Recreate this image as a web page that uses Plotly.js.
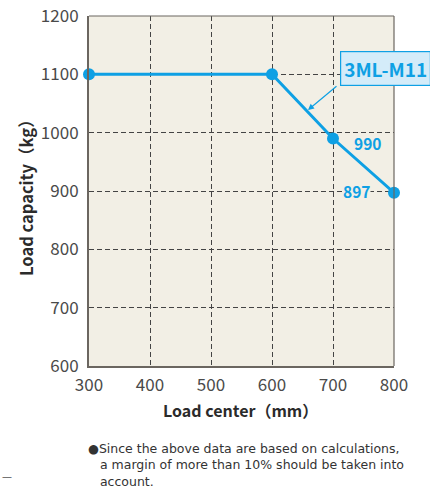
<!DOCTYPE html>
<html><head><meta charset="utf-8">
<script src="https://cdn.plot.ly/plotly-3.0.1.min.js"></script>
<style>body{margin:0;background:#fff}#chart{width:430px;height:496px}</style>
</head><body><div id="chart"></div>
<script>
const loadCenter = [300, 600, 700, 800];
const loadCapacity = [1100, 1100, 990, 897];
const xTicks = [300, 400, 500, 600, 700, 800];
const yTicks = [600, 700, 800, 900, 1000, 1100, 1200];
const seriesName = '3ML-M11';
const valueLabels = ['990', '897'];
const noteLines = ['●Since the above data are based on calculations,', '   a margin of more than 10% should be taken into', '   account.'];

const blue = '#0ea0e4';
const F = '"Noto Sans CJK JP", "Noto Sans", sans-serif';
const FN = '"DejaVu Sans", "Liberation Sans", sans-serif';

const W = 430, H = 496, L = 89, R = 36, T = 16, B = 130;
const pw = W - L - R, ph = H - T - B;
function px(x){return (x - L) / pw;}
function py(y){return (H - B - y) / ph;}

const trace = {
  x: loadCenter, y: loadCapacity, type: 'scatter', mode: 'lines+markers',
  line: {color: blue, width: 3}, marker: {color: blue, size: 12},
  cliponaxis: false, hoverinfo: 'skip'
};

const annotations = [
  {x: loadCenter[2], y: loadCapacity[2], xref: 'x', yref: 'y', text: '<b>' + valueLabels[0] + '</b>', showarrow: false,
   xshift: 34, yshift: -4, font: {family: F, size: 15.5, color: blue}},
  {x: loadCenter[3], y: loadCapacity[3], xref: 'x', yref: 'y', text: '<b>' + valueLabels[1] + '</b>', showarrow: false,
   xshift: -38, yshift: 2, bgcolor: '#f2efe5', borderpad: 0, font: {family: F, size: 15.5, color: blue}},
  {x: 659, y: 1039, xref: 'x', yref: 'y', ax: 30, ay: -25,
   text: '', showarrow: true, arrowhead: 2, arrowsize: 1, arrowwidth: 1.2, arrowcolor: blue},
  {x: px(340), y: py(68), xref: 'paper', yref: 'paper', xanchor: 'left', yanchor: 'middle',
   text: '<b>' + seriesName + '</b>', showarrow: false, bgcolor: '#d4ecf9', bordercolor: blue, borderwidth: 1.2,
   borderpad: 3, font: {family: F, size: 19, color: blue}},
  {x: px(240), y: py(410), xref: 'paper', yref: 'paper', xanchor: 'center', yanchor: 'middle',
   text: '<b>Load center（mm）</b>', showarrow: false, font: {family: F, size: 16, color: '#2b2b2b'}},
  {x: px(26), y: py(193), xref: 'paper', yref: 'paper', xanchor: 'center', yanchor: 'middle',
   textangle: -90, text: '<b>Load capacity（kg）</b>', showarrow: false, font: {family: F, size: 16.5, color: '#2b2b2b'}},
  {x: px(0), y: py(476), xref: 'paper', yref: 'paper', xanchor: 'left', yanchor: 'middle',
   text: '—', showarrow: false, font: {family: FN, size: 10, color: '#555'}},
  {x: px(86), y: py(439), xref: 'paper', yref: 'paper', xanchor: 'left', yanchor: 'top', align: 'left',
   text: noteLines.join('<br>'), showarrow: false, font: {family: FN, size: 12.5, color: '#333'}}
];

const axisCommon = {showgrid: true, gridcolor: '#444', griddash: '5px,3px', gridwidth: 1, zeroline: false,
  showline: true, linecolor: '#6b6660', linewidth: 2, ticks: '',
  tickfont: {family: F, size: 17, color: '#4a4a4a'}, fixedrange: true};

const layout = {
  width: W, height: H, margin: {l: L, r: R, t: T, b: B},
  paper_bgcolor: '#fff', plot_bgcolor: '#f2efe5', showlegend: false,
  font: {family: F, color: '#444'},
  xaxis: Object.assign({range: [300, 800], tickvals: xTicks, ticktext: xTicks.map(String), ticklabelstandoff: 3}, axisCommon),
  yaxis: Object.assign({range: [600, 1200], tickvals: yTicks, ticktext: yTicks.map(String), ticklabelstandoff: 5}, axisCommon),
  shapes: [
    {type: 'line', xref: 'paper', yref: 'paper', x0: 0, x1: 1, y0: 1, y1: 1, line: {color: '#6b6660', width: 1.2}},
    {type: 'line', xref: 'paper', yref: 'paper', x0: 1, x1: 1, y0: 0, y1: 1, line: {color: '#6b6660', width: 1.2}}
  ],
  annotations: annotations
};

Plotly.newPlot('chart', [trace], layout, {displayModeBar: false, staticPlot: true});
</script></body></html>
